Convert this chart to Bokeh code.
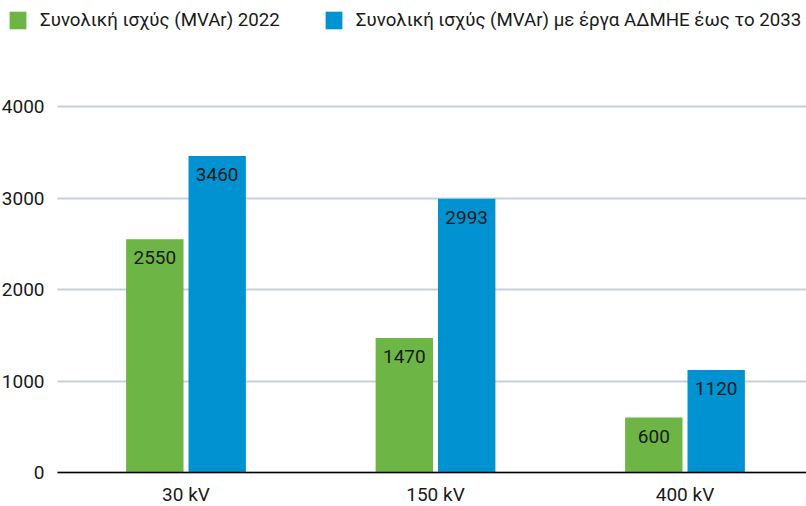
from bokeh.plotting import figure
from bokeh.models import ColumnDataSource, Legend, LegendItem, Range1d, FixedTicker
from bokeh.core.properties import value
from bokeh.embed import file_html
from bokeh.resources import INLINE

categories = ["30 kV", "150 kV", "400 kV"]
mvar_2022 = [2550, 1470, 600]
mvar_2033 = [3460, 2993, 1120]
series_names = ["Συνολική ισχύς (MVAr) 2022",
                "Συνολική ισχύς (MVAr) με έργα ΑΔΜΗΕ έως το 2033"]
y_ticks = [0, 1000, 2000, 3000, 4000]

GREEN = "#6DB545"
BLUE = "#0092D1"
GRID = "#C5D1D9"
TEXT = "#1a1a1a"
FONT = "Roboto"
FS = "19px"

# layout constants (pixels)
W, H = 806, 506
ZERO_PX = 472               # pixel row of value 0
TOP_TICK_PX = 106           # pixel row of the highest tick
CAT_PX = 249.5              # width of one category slot
FIRST_CENTER_PX = 185.5     # centre of first category
GRID_LEFT_PX = 57

x_start = 0.5 - FIRST_CENTER_PX / CAT_PX
x_end = x_start + W / CAT_PX
grid_left = x_start + GRID_LEFT_PX / CAT_PX
units_per_px = max(y_ticks) / (ZERO_PX - TOP_TICK_PX)
y_end = ZERO_PX * units_per_px
y_start = -(H - ZERO_PX) * units_per_px

idx = list(range(len(categories)))
centers = [i + 0.5 for i in idx]
bw = 0.23
off = 0.125

src = ColumnDataSource(dict(
    x1=[c - off for c in centers],
    x2=[c + off for c in centers],
    v1=mvar_2022,
    v2=mvar_2033,
    l1=[str(v) for v in mvar_2022],
    l2=[str(v) for v in mvar_2033],
))

p = figure(x_range=Range1d(x_start, x_end), y_range=Range1d(y_start, y_end),
           width=W, height=H,
           output_backend="svg", toolbar_location=None,
           min_border_left=0, min_border_right=0,
           min_border_top=0, min_border_bottom=0)

r1 = p.vbar(x="x1", top="v1", bottom=0, width=bw, source=src,
            fill_color=GREEN, line_color=None)
r2 = p.vbar(x="x2", top="v2", bottom=0, width=bw, source=src,
            fill_color=BLUE, line_color=None)

for xcol, col, lab in (("x1", "v1", "l1"), ("x2", "v2", "l2")):
    p.text(x=xcol, y=col, text=lab, source=src,
           text_align="center", text_baseline="top", y_offset=12,
           text_font=value(FONT), text_font_size=FS, text_color=TEXT)

p.outline_line_color = None
p.xgrid.grid_line_color = None
p.ygrid.grid_line_color = GRID
p.ygrid.grid_line_width = 2
p.ygrid.ticker = FixedTicker(ticks=y_ticks)
p.ygrid.cross_bounds = (grid_left, x_end)

for ax in (p.xaxis, p.yaxis):
    ax.major_tick_line_color = None
    ax.minor_tick_line_color = None
    ax.major_tick_out = 0
    ax.minor_tick_out = 0
    ax.major_tick_in = 0
    ax.minor_tick_in = 0
    ax.major_label_text_font = FONT
    ax.major_label_text_font_size = FS
    ax.major_label_text_color = TEXT

p.yaxis.ticker = FixedTicker(ticks=y_ticks)
p.yaxis.fixed_location = grid_left
p.yaxis.axis_line_color = None
p.yaxis.major_label_standoff = 13

p.xaxis.ticker = FixedTicker(ticks=centers)
p.xaxis.major_label_overrides = {c: cat for c, cat in zip(centers, categories)}
p.xaxis.fixed_location = 0
p.xaxis.bounds = (grid_left, x_end)
p.xaxis.axis_line_color = "black"
p.xaxis.axis_line_width = 1.5
p.xaxis.major_label_standoff = 10

legend = Legend(items=[LegendItem(label=series_names[0], renderers=[r1]),
                       LegendItem(label=series_names[1], renderers=[r2])],
                orientation="horizontal", location=(7, H - 9 - 22),
                margin=0, padding=0, spacing=43,
                glyph_width=21, glyph_height=22, label_height=22,
                label_standoff=12,
                label_text_font=FONT, label_text_font_size="18.7px",
                label_text_color=TEXT,
                border_line_color=None, background_fill_alpha=0)
p.add_layout(legend, "center")

open("out.html", "w").write(file_html(p, INLINE))
